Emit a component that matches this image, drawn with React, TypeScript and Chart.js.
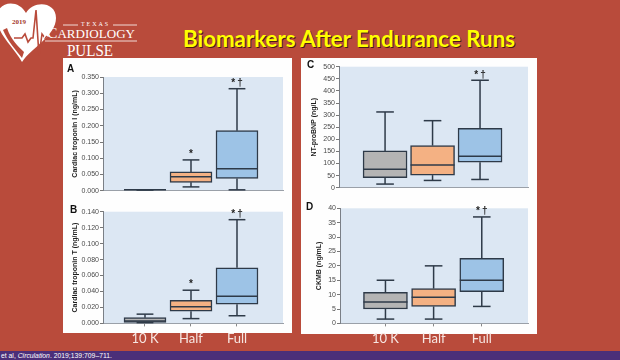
import React, { useEffect, useRef } from 'react';
import { Chart, registerables } from 'chart.js';

Chart.register(...registerables);

// ---------- data ----------
const CATEGORIES = ['10 K', 'Half', 'Full'];
const POSITIONS = [1, 2, 3];
const BOX_COLORS = ['#b4b4b4', '#f4b183', '#9dc3e6'];

// A: cardiac troponin I (ng/mL)
const TNI_MIN = [0.003, 0.012, 0.003];
const TNI_Q1 = [0.003, 0.026, 0.038];
const TNI_MEDIAN = [0.003, 0.043, 0.068];
const TNI_Q3 = [0.003, 0.058, 0.185];
const TNI_MAX = [0.003, 0.095, 0.314];
const TNI_MARKS = ['', '*', '*\u2009\u2020'];

// B: cardiac troponin T (ng/mL)
const TNT_MIN = [0.001, 0.006, 0.0096];
const TNT_Q1 = [0.0012, 0.0152, 0.024];
const TNT_MEDIAN = [0.003, 0.021, 0.034];
const TNT_Q3 = [0.0072, 0.0288, 0.0696];
const TNT_MAX = [0.0116, 0.0416, 0.13];
const TNT_MARKS = ['', '*', '*\u2009\u2020'];

// C: NT-proBNP (ng/L)
const BNP_MIN = [15, 30, 34];
const BNP_Q1 = [41, 52, 105];
const BNP_MEDIAN = [76, 94, 130];
const BNP_Q3 = [152, 174, 245];
const BNP_MAX = [313, 277, 444];
const BNP_MARKS = ['', '', '*\u2009\u2020'];

// D: CKMB (ng/mL)
const CKMB_MIN = [1.5, 1.5, 5.9];
const CKMB_Q1 = [5, 5.9, 11];
const CKMB_MEDIAN = [7.4, 9.1, 15];
const CKMB_Q3 = [10.8, 12.1, 22.6];
const CKMB_MAX = [15, 20, 37];
const CKMB_MARKS = ['', '', '*\u2009\u2020'];

const SANS = '"Liberation Sans", Arial, sans-serif';
const LINE = '#2e3a48';

type Panel = {
  letter: string;
  left: number; top: number; w: number; h: number;
  axisWidth: number;
  pad: { top: number; right: number; bottom: number; left: number };
  yMax: number; step: number; decimals: number;
  title: string; titlePad: number;
  xMin: number; xMax: number;
  boxWidth: number;
  showX: boolean;
  mins: number[]; q1: number[]; med: number[]; q3: number[]; maxs: number[]; marks: string[];
  letterPos: [number, number];
};

function makeBoxPlugin(p: Panel) {
  return {
    id: 'boxplot' + p.letter,
    beforeDraw(chart: any) {
      const a = chart.chartArea;
      const ctx = chart.ctx;
      ctx.save();
      ctx.fillStyle = '#dce7f3';
      ctx.fillRect(a.left, a.top, a.right - a.left, a.bottom - a.top);
      ctx.restore();
    },
    afterDatasetsDraw(chart: any) {
      const ctx = chart.ctx;
      const xs = chart.scales.x;
      const ys = chart.scales.y;
      ctx.save();
      ctx.strokeStyle = LINE;
      ctx.lineWidth = 1.5;
      const hw = p.boxWidth / 2;
      const cw = p.boxWidth * 0.2;
      const seg = (x1: number, y1: number, x2: number, y2: number) => {
        ctx.beginPath();
        ctx.moveTo(x1, y1);
        ctx.lineTo(x2, y2);
        ctx.stroke();
      };
      POSITIONS.forEach((pos, i) => {
        const x = xs.getPixelForValue(pos);
        const yMin = ys.getPixelForValue(p.mins[i]);
        const yQ1 = ys.getPixelForValue(p.q1[i]);
        const yMed = ys.getPixelForValue(p.med[i]);
        const yQ3 = ys.getPixelForValue(p.q3[i]);
        const yMax = ys.getPixelForValue(p.maxs[i]);
        seg(x, yQ1, x, yMin);
        seg(x, yQ3, x, yMax);
        seg(x - cw, yMin, x + cw, yMin);
        seg(x - cw, yMax, x + cw, yMax);
        seg(x - hw, yMed, x + hw, yMed);
        if (p.marks[i]) {
          ctx.fillStyle = '#1e1e1e';
          ctx.font = 'bold 10px ' + SANS;
          ctx.textAlign = 'center';
          ctx.textBaseline = 'bottom';
          ctx.fillText(p.marks[i], x, yMax - 0.5);
        }
      });
      ctx.restore();
    },
  };
}

function BoxPanel({ p }: { p: Panel }) {
  const ref = useRef<HTMLCanvasElement>(null);
  useEffect(() => {
    if (!ref.current) return;
    const chart = new Chart(ref.current, {
      type: 'bar',
      data: {
        datasets: [
          {
            data: POSITIONS.map((pos, i) => ({ x: pos, y: [p.q1[i], p.q3[i]] })) as any,
            backgroundColor: BOX_COLORS,
            borderColor: LINE,
            borderWidth: 1.5,
            borderSkipped: false,
            barThickness: p.boxWidth,
          } as any,
        ],
      },
      options: {
        animation: false,
        responsive: false,
        layout: { padding: p.pad },
        plugins: { legend: { display: false }, tooltip: { enabled: false } },
        scales: {
          x: {
            type: 'linear',
            offset: false,
            min: p.xMin,
            max: p.xMax,
            afterBuildTicks: (s: any) => {
              s.ticks = POSITIONS.map((v) => ({ value: v }));
            },
            ticks: {
              display: p.showX,
              autoSkip: false,
              maxRotation: 0,
              padding: 5,
              color: '#f7e6e2',
              font: { size: 13, family: 'Lato, "Open Sans", sans-serif' },
              callback: (v: any) => CATEGORIES[POSITIONS.indexOf(Number(v))],
            },
            grid: { offset: false, drawOnChartArea: false, drawTicks: p.showX, tickLength: 3, color: '#888' },
            border: { display: true, color: '#9aa0a8', width: 1 },
          },
          y: {
            min: 0,
            max: p.yMax,
            afterFit: (s: any) => {
              s.width = p.axisWidth;
            },
            ticks: {
              stepSize: p.step,
              autoSkip: false,
              padding: 1,
              color: '#4a4a4a',
              font: { size: 7, family: SANS },
              callback: (v: any) => Number(v).toFixed(p.decimals),
            },
            grid: { drawOnChartArea: false, drawTicks: true, tickLength: 3, color: '#777' },
            border: { display: true, color: '#7a7f86', width: 1 },
            title: {
              display: true,
              text: p.title,
              color: '#1e1e1e',
              font: { size: 7, weight: 'bold', family: SANS },
              padding: { top: p.titlePad, bottom: 0 },
            },
          },
        },
      } as any,
      plugins: [makeBoxPlugin(p) as any],
    });
    return () => chart.destroy();
  }, []);
  return (
    <>
      <canvas
        ref={ref}
        width={p.w}
        height={p.h}
        style={{ position: 'absolute', left: p.left, top: p.top, width: p.w, height: p.h }}
      />
      <div
        style={{
          position: 'absolute',
          left: p.letterPos[0],
          top: p.letterPos[1],
          font: 'bold 10px ' + SANS,
          lineHeight: '10px',
          color: '#111',
        }}
      >
        {p.letter}
      </div>
    </>
  );
}

const PANELS: Panel[] = [
  {
    letter: 'A', left: 63, top: 58, w: 229, h: 138, axisWidth: 40,
    pad: { top: 19, right: 9, bottom: 4, left: 0 },
    yMax: 0.35, step: 0.05, decimals: 3,
    title: 'Cardiac troponin I (ng/mL)', titlePad: 7.5,
    xMin: 0.087, xMax: 4, boxWidth: 42, showX: false,
    mins: TNI_MIN, q1: TNI_Q1, med: TNI_MEDIAN, q3: TNI_Q3, maxs: TNI_MAX, marks: TNI_MARKS,
    letterPos: [67, 64],
  },
  {
    letter: 'B', left: 63, top: 196, w: 229, h: 156, axisWidth: 40,
    pad: { top: 15.7, right: 9, bottom: 0, left: 0 },
    yMax: 0.14, step: 0.02, decimals: 3,
    title: 'Cardiac troponin T (ng/mL)', titlePad: 7.5,
    xMin: 0.087, xMax: 4, boxWidth: 42, showX: true,
    mins: TNT_MIN, q1: TNT_Q1, med: TNT_MEDIAN, q3: TNT_Q3, maxs: TNT_MAX, marks: TNT_MARKS,
    letterPos: [70, 205],
  },
  {
    letter: 'C', left: 301, top: 58, w: 236, h: 138, axisWidth: 38,
    pad: { top: 8.7, right: 9, bottom: 8.3, left: 0 },
    yMax: 500, step: 50, decimals: 0,
    title: 'NT-proBNP (ng/L)', titlePad: 8.5,
    xMin: 0.03, xMax: 4.01, boxWidth: 44, showX: false,
    mins: BNP_MIN, q1: BNP_Q1, med: BNP_MEDIAN, q3: BNP_Q3, maxs: BNP_MAX, marks: BNP_MARKS,
    letterPos: [307, 60],
  },
  {
    letter: 'D', left: 301, top: 196, w: 236, h: 156, axisWidth: 39,
    pad: { top: 12.3, right: 9, bottom: 0, left: 0 },
    yMax: 40, step: 5, decimals: 0,
    title: 'CKMB (ng/mL)', titlePad: 13.5,
    xMin: 0.056, xMax: 3.96, boxWidth: 44, showX: true,
    mins: CKMB_MIN, q1: CKMB_Q1, med: CKMB_MEDIAN, q3: CKMB_Q3, maxs: CKMB_MAX, marks: CKMB_MARKS,
    letterPos: [306, 202],
  },
];

function Logo() {
  return (
    <svg width={160} height={62} style={{ position: 'absolute', left: 0, top: 0 }}>
      <path
        d="M26,13 C19,-1 -3,0 -3,18 C-3,34 13,46 22,62 C31,48 56,36 56,18 C56,1 33,0 26,13 Z"
        fill="#ffffff"
      />
      <path d="M3,30 C8,42 16,50 22,58 L24,52 C18,46 11,40 7,28 Z" fill="#b94b3b" />
      <text x={12} y={24} fontFamily='"Liberation Serif", serif' fontWeight="bold" fontSize={7} fill="#a3362a">
        2019
      </text>
      <polyline
        points="14,38 22,38 25,34 28,42 31,38 33,38 36,10 39,56 42,34 45,38 47,36"
        fill="none"
        stroke="#b94b3b"
        strokeWidth={1.6}
      />
      <polyline points="44,38 46,34 48,36 50,36" fill="none" stroke="#ffffff" strokeWidth={1.2} />
      <line x1={63} y1={25} x2={78} y2={25} stroke="#fff" strokeWidth={0.8} />
      <line x1={113} y1={25} x2={137} y2={25} stroke="#fff" strokeWidth={0.8} />
      <text x={81} y={26} fontFamily='"Liberation Serif", serif' fontSize={6} fill="#fff" textLength={27} lengthAdjust="spacing">
        TEXAS
      </text>
      <text x={47} y={38} fontFamily='"Liberation Serif", serif' fill="#fff" textLength={88} lengthAdjust="spacingAndGlyphs">
        <tspan fontSize={15}>C</tspan>
        <tspan fontSize={12.5}>ARDIOLOGY</tspan>
      </text>
      <line x1={45} y1={41} x2={137} y2={41} stroke="#fff" strokeWidth={0.8} />
      <text x={67} y={56} fontFamily='"Liberation Serif", serif' fontSize={16} fill="#fff" textLength={46} lengthAdjust="spacingAndGlyphs">
        PULSE
      </text>
    </svg>
  );
}

export default function App() {
  return (
    <div
      style={{
        position: 'fixed',
        left: 0,
        top: 0,
        width: 620,
        height: 360,
        background: '#b94b3b',
        overflow: 'hidden',
        fontFamily: SANS,
      }}
    >
      <Logo />
      <svg width={620} height={60} style={{ position: 'absolute', left: 0, top: 0 }}>
        <text x={184} y={48} fontFamily="Lato, sans-serif" fontWeight="bold" fontSize={23} fill="#4a1d12" textLength={332} lengthAdjust="spacingAndGlyphs">
          Biomarkers After Endurance Runs
        </text>
        <text x={183} y={47} fontFamily="Lato, sans-serif" fontWeight="bold" fontSize={23} fill="#ffff00" textLength={332} lengthAdjust="spacingAndGlyphs">
          Biomarkers After Endurance Runs
        </text>
      </svg>
      <div style={{ position: 'absolute', left: 63, top: 58, width: 229, height: 275, background: '#fefefe' }} />
      <div style={{ position: 'absolute', left: 301, top: 58, width: 236, height: 276, background: '#fefefe' }} />
      {PANELS.map((p) => (
        <BoxPanel key={p.letter} p={p} />
      ))}
      <div style={{ position: 'absolute', left: 0, top: 351, width: 620, height: 9, background: '#4b2f79' }} />
      <svg width={620} height={9} style={{ position: 'absolute', left: 0, top: 351 }}>
        <text x={1} y={7} fontFamily={SANS} fontSize={6.5} fill="#ffffff" textLength={111} lengthAdjust="spacingAndGlyphs">
          et al, <tspan fontStyle="italic">Circulation</tspan>. 2019;139:709–711.
        </text>
      </svg>
    </div>
  );
}
